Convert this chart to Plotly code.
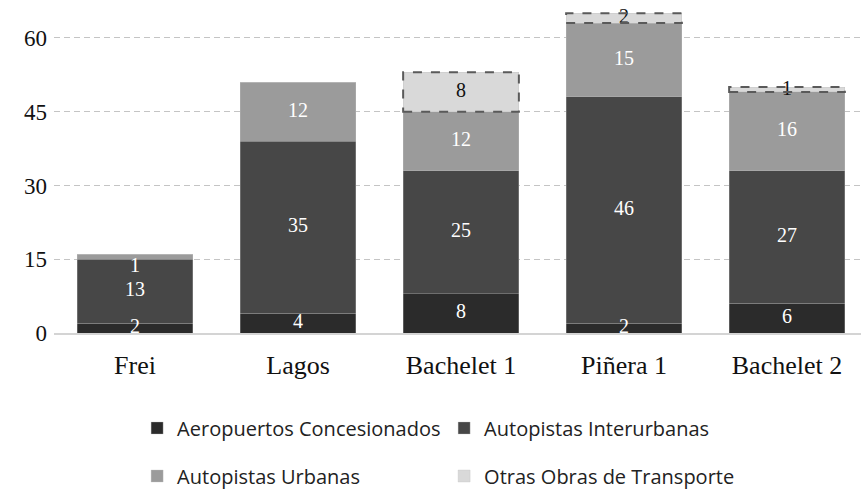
import plotly.graph_objects as go

# Concesiones por gobierno y tipo de obra
gobiernos = ["Frei", "Lagos", "Bachelet 1", "Piñera 1", "Bachelet 2"]
aeropuertos = [2, 4, 8, 2, 6]
interurbanas = [13, 35, 25, 46, 27]
urbanas = [1, 12, 12, 15, 16]
otras = [0, 0, 8, 2, 1]

series = [
    ("Aeropuertos Concesionados", aeropuertos, "#2b2b2b", "white", "legend"),
    ("Autopistas Interurbanas", interurbanas, "#474747", "white", "legend"),
    ("Autopistas Urbanas", urbanas, "#9b9b9b", "white", "legend2"),
    ("Otras Obras de Transporte", otras, "#d9d9d9", "#111111", "legend2"),
]

# small label nudges (in axis units) for segments too thin to hold their label
nudges = {("Autopistas Urbanas", "Frei"): -2.1}

BAR_WIDTH = 0.71
serif = "Liberation Serif"
sans = "Open Sans"

fig = go.Figure()
base = [0] * len(gobiernos)
label_x, label_y, label_t, label_c = [], [], [], []
shapes = []
for name, vals, color, txtcolor, leg in series:
    fig.add_trace(go.Bar(
        x=gobiernos, y=vals, name=name, legend=leg,
        marker=dict(color=color, line=dict(width=0.6, color="rgba(190,190,190,0.55)")),
        hoverinfo="x+y+name",
    ))
    for i, (g, v) in enumerate(zip(gobiernos, vals)):
        if v > 0:
            label_x.append(g)
            label_y.append(base[i] + v / 2 + nudges.get((name, g), 0))
            label_t.append(str(v))
            label_c.append(txtcolor)
            if name == "Otras Obras de Transporte":
                shapes.append(dict(
                    type="rect", xref="x", yref="y",
                    x0=i - BAR_WIDTH / 2, x1=i + BAR_WIDTH / 2,
                    y0=base[i], y1=base[i] + v,
                    line=dict(color="#5a5a5a", width=2, dash="dash"),
                    fillcolor="rgba(0,0,0,0)", layer="above",
                ))
        base[i] += v

fig.add_trace(go.Scatter(
    x=label_x, y=label_y, text=label_t, mode="text",
    textfont=dict(family=serif, size=20, color=label_c),
    textposition="middle center", showlegend=False, hoverinfo="skip",
    cliponaxis=True,
))

legend_style = dict(
    orientation="h", x=0.103, xanchor="left", yanchor="middle",
    yref="container",
    font=dict(family=sans, size=20, color="#222222"),
    entrywidth=262, entrywidthmode="pixels", itemclick=False,
    traceorder="normal",
)

fig.update_layout(
    width=861, height=490,
    margin=dict(l=54, r=0, t=0, b=157, autoexpand=False),
    paper_bgcolor="white", plot_bgcolor="white",
    barmode="stack", bargap=1 - BAR_WIDTH,
    shapes=shapes,
    font=dict(family=serif, color="#222222"),
    xaxis=dict(
        type="category", range=[-0.497, 4.454],
        showline=True, linecolor="#d4d4d4", linewidth=2,
        ticks="", tickfont=dict(family=serif, size=26, color="#111111"),
        ticklabelstandoff=8, showgrid=False,
    ),
    yaxis=dict(
        range=[0, 67.7], tickvals=[0, 15, 30, 45, 60],
        showgrid=True, gridcolor="#c4c4c4", gridwidth=1, griddash="6px,4px",
        zeroline=False, showline=False, ticks="",
        tickfont=dict(family=serif, size=23, color="#111111"),
        ticklabelstandoff=6,
    ),
    legend=dict(legend_style, y=1 - 428 / 490),
    legend2=dict(legend_style, y=1 - 476 / 490),
)

fig.write_html("out.html")
